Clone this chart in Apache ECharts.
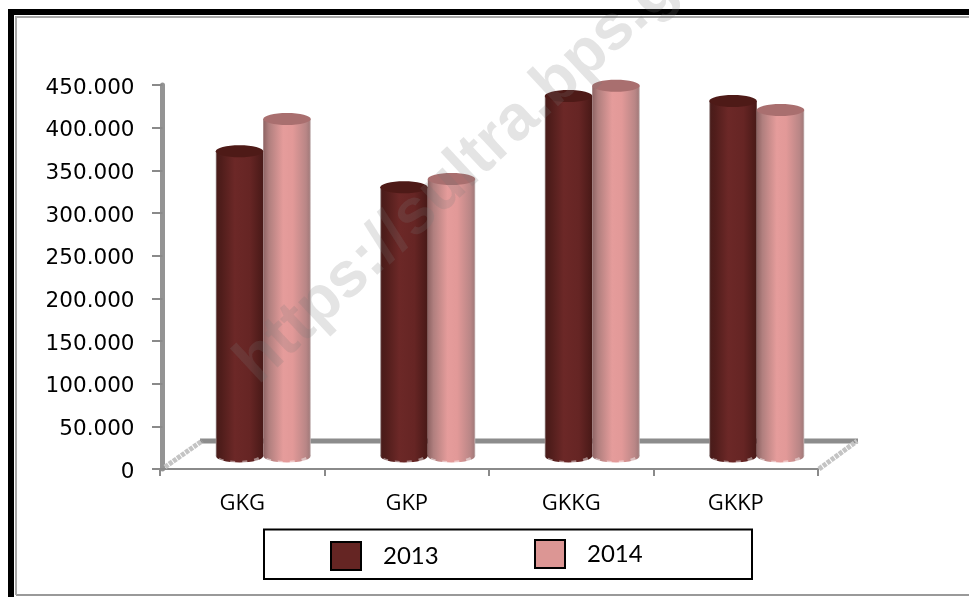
<!DOCTYPE html>
<html><head><meta charset="utf-8">
<style>html,body{margin:0;padding:0;background:#fff}#c{width:969px;height:597px}</style>
<script src="https://cdn.jsdelivr.net/npm/echarts@6/dist/echarts.min.js"></script>
</head><body><div id="c"></div>
<script>
const categories = ['GKG','GKP','GKKG','GKKP'];
const values2013 = [357000,315000,422000,416000];
const values2014 = [395000,324500,434000,405500];
const yearNames = ['2013','2014'];
const chart = echarts.init(document.getElementById('c'),null,{renderer:'canvas'});

const DEPTH_X=21, DEPTH_Y=13, BAR_W=47.5, RY=6;
const looks = [
 {side:-1, swatch:'#652523', top:'#4e1a17',
  stops:[[0,'#a59a9a'],[0.03,'#4a1c1a'],[0.12,'#501d1b'],[0.4,'#6c2827'],[0.72,'#662524'],[1,'#481917']]},
 {side:1, swatch:'#dc9694', top:'#a96f6f',
  stops:[[0,'#8d6363'],[0.12,'#b07f7e'],[0.42,'#e59c9b'],[0.62,'#e29998'],[0.9,'#b98686'],[0.97,'#a67c7c'],[1,'#c8bcbc']]}
];
function cyl(look){
  return function(params,api){
    const p=api.coord([api.value(0),api.value(1)]);
    const z=api.coord([api.value(0),0]);
    const cx=p[0]+DEPTH_X+look.side*BAR_W/2, top=p[1]-DEPTH_Y, base=z[1]-DEPTH_Y;
    const x0=cx-BAR_W/2;
    const grad=new echarts.graphic.LinearGradient(0,0,1,0,look.stops.map(s=>({offset:s[0],color:s[1]})));
    return {type:'group',children:[
      {type:'ellipse',shape:{cx:cx,cy:base,rx:BAR_W/2,ry:RY+0.5},style:{fill:grad}},
      {type:'rect',shape:{x:x0,y:top,width:BAR_W,height:base-top},style:{fill:grad}},
      {type:'ellipse',shape:{cx:cx,cy:top,rx:BAR_W/2,ry:RY},style:{fill:look.top}},
      {type:'bezierCurve',shape:{x1:x0+3,y1:base+3,cpx1:x0+12,cpy1:base+8,cpx2:x0+BAR_W-12,cpy2:base+8,x2:x0+BAR_W-2,y2:base+1},
       style:{fill:null,stroke:'rgba(255,255,255,0.45)',lineWidth:3,lineDash:[5,7]}}
    ]};
  };
}
function mk(name,vals,look){
  return {name:name,type:'custom',coordinateSystem:'cartesian2d',
    data:vals.map((v,i)=>[i,v]),encode:{x:0,y:1},
    itemStyle:{color:look.swatch},renderItem:cyl(look),z:3};
}
const legendBase={orient:'horizontal',itemWidth:30,itemHeight:28,itemGap:0,padding:0,icon:'rect',
  selectedMode:false,itemStyle:{borderColor:'#000',borderWidth:2},
  textStyle:{fontFamily:'Lato',fontSize:24,color:'#000',padding:[0,0,0,17]}};
chart.setOption({
  animation:false,backgroundColor:'#fff',
  grid:{left:160,right:151,top:85,bottom:128,containLabel:false},
  xAxis:{type:'category',data:categories,offset:2,
    axisLine:{lineStyle:{color:'#8a8a8a',width:2}},
    axisTick:{show:true,length:7,lineStyle:{color:'#8a8a8a',width:2}},
    axisLabel:{color:'#000',fontFamily:'Open Sans',fontSize:22,margin:22}},
  yAxis:{type:'value',min:0,max:450000,interval:50000,offset:-2.5,
    splitLine:{show:false},
    axisLine:{show:true,lineStyle:{color:'#949494',width:5}},
    axisTick:{show:true,length:10.5,lineStyle:{color:'#8a8a8a',width:2}},
    axisLabel:{color:'#000',fontFamily:'DejaVu Sans',fontSize:21.5,margin:28,verticalAlign:'top',lineHeight:6,
      formatter:v=>v===0?'0':(v/1000)+'.000'}},
  legend:[
    Object.assign({},legendBase,{data:['2013'],left:330,top:541}),
    Object.assign({},legendBase,{data:['2014'],left:534,top:539})
  ],
  series:[mk(yearNames[0],values2013,looks[0]),mk(yearNames[1],values2014,looks[1])],
  graphic:[
    {type:'rect',z:0,silent:true,shape:{x:11,y:12,width:980,height:600},style:{fill:null,stroke:'#000',lineWidth:6}},
    {type:'polyline',z:1,silent:true,shape:{points:[[16,595],[980,595]]},style:{fill:null,stroke:'#999',lineWidth:2}},
    {type:'polyline',z:1,silent:true,shape:{points:[[16,595],[16,17],[980,17]]},style:{fill:null,stroke:'#a8a8a8',lineWidth:2}},
    {type:'line',z:1,silent:true,shape:{x1:200,y1:441,x2:858,y2:441},style:{stroke:'#8c8c8c',lineWidth:5}},
    {type:'line',z:1,silent:true,shape:{x1:165,y1:467,x2:202,y2:441},style:{stroke:'#c4c4c4',lineWidth:5,lineDash:[4,1]}},
    {type:'line',z:1,silent:true,shape:{x1:819,y1:469,x2:857,y2:441},style:{stroke:'#c4c4c4',lineWidth:5,lineDash:[4,1]}},
    {type:'rect',z:1,silent:true,shape:{x:264,y:529.5,width:488,height:49.5},style:{fill:'#fff',stroke:'#000',lineWidth:2}},
    {type:'text',z:100,silent:true,x:268,y:396,rotation:0.75,
      style:{text:'https://sultra.bps.go.id',font:'bold 64px "Liberation Sans"',fill:'rgba(120,120,120,0.2)',textAlign:'left',textVerticalAlign:'bottom'}}
  ]
});
</script></body></html>
